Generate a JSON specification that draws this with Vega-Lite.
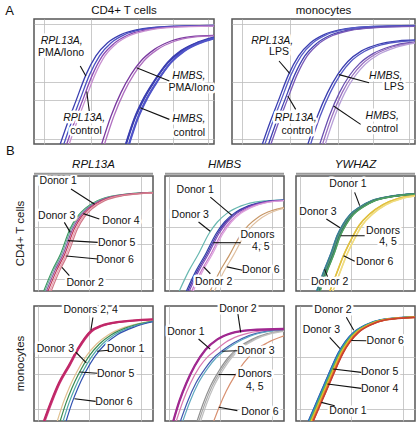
{
"$schema":"https://vega.github.io/schema/vega-lite/v6.json",
"padding":{"left":5,"top":3,"right":0,"bottom":0},
"background":"white",
"title":{"text":"A","anchor":"start","frame":"bounds","fontSize":13,"fontWeight":"normal","color":"#111","offset":-14},
"config":{
 "font":"Liberation Sans",
 "view":{"stroke":"#555","strokeWidth":1.5},
 "axis":{"labels":false,"ticks":false,"domain":false,"grid":true,"gridColor":"#bcbcbc","gridWidth":0.8},
 "title":{"fontWeight":"normal","color":"#111","font":"Liberation Sans"}
},
"datasets":{
"curves":[
{"p":"a1","s":"rp1","x":14.6,"y":0},{"p":"a1","s":"rp1","x":18.7,"y":17},{"p":"a1","s":"rp1","x":23.3,"y":34.5},{"p":"a1","s":"rp1","x":28.9,"y":55.5},{"p":"a1","s":"rp1","x":34.4,"y":70.5},{"p":"a1","s":"rp1","x":40.9,"y":81},{"p":"a1","s":"rp1","x":48.3,"y":87.5},{"p":"a1","s":"rp1","x":57.6,"y":91.5},{"p":"a1","s":"rp1","x":72.4,"y":93.8},{"p":"a1","s":"rp1","x":100,"y":94.8},
{"p":"a1","s":"rp2","x":16.6,"y":0},{"p":"a1","s":"rp2","x":20.7,"y":17},{"p":"a1","s":"rp2","x":25.3,"y":34.5},{"p":"a1","s":"rp2","x":30.9,"y":55.5},{"p":"a1","s":"rp2","x":36.4,"y":70.5},{"p":"a1","s":"rp2","x":42.9,"y":81},{"p":"a1","s":"rp2","x":50.3,"y":87.5},{"p":"a1","s":"rp2","x":59.6,"y":91.5},{"p":"a1","s":"rp2","x":74.4,"y":93.8},{"p":"a1","s":"rp2","x":100,"y":94.8},
{"p":"a1","s":"rc1","x":18.2,"y":0},{"p":"a1","s":"rc1","x":22.3,"y":17},{"p":"a1","s":"rc1","x":26.9,"y":34.5},{"p":"a1","s":"rc1","x":32.5,"y":55.5},{"p":"a1","s":"rc1","x":38,"y":70.5},{"p":"a1","s":"rc1","x":44.5,"y":80.5},{"p":"a1","s":"rc1","x":51.9,"y":87},{"p":"a1","s":"rc1","x":61.2,"y":91},{"p":"a1","s":"rc1","x":76,"y":93.5},{"p":"a1","s":"rc1","x":100,"y":94.5},
{"p":"a1","s":"rc2","x":19.6,"y":0},{"p":"a1","s":"rc2","x":23.7,"y":17},{"p":"a1","s":"rc2","x":28.3,"y":34.5},{"p":"a1","s":"rc2","x":33.9,"y":55.5},{"p":"a1","s":"rc2","x":39.4,"y":70.5},{"p":"a1","s":"rc2","x":45.9,"y":80.5},{"p":"a1","s":"rc2","x":53.3,"y":86.8},{"p":"a1","s":"rc2","x":62.6,"y":90.8},{"p":"a1","s":"rc2","x":77.4,"y":93.3},{"p":"a1","s":"rc2","x":100,"y":94.3},
{"p":"a1","s":"hp1","x":37.6,"y":0},{"p":"a1","s":"hp1","x":42.8,"y":22.4},{"p":"a1","s":"hp1","x":48.3,"y":41.1},{"p":"a1","s":"hp1","x":53.9,"y":55.7},{"p":"a1","s":"hp1","x":59.4,"y":66.4},{"p":"a1","s":"hp1","x":66.9,"y":75.7},{"p":"a1","s":"hp1","x":76.1,"y":82.4},{"p":"a1","s":"hp1","x":87.2,"y":85.9},{"p":"a1","s":"hp1","x":100,"y":86.9},
{"p":"a1","s":"hp2","x":39.2,"y":0},{"p":"a1","s":"hp2","x":44.4,"y":22.4},{"p":"a1","s":"hp2","x":49.9,"y":41.1},{"p":"a1","s":"hp2","x":55.5,"y":55.7},{"p":"a1","s":"hp2","x":61,"y":66.4},{"p":"a1","s":"hp2","x":68.5,"y":75.5},{"p":"a1","s":"hp2","x":77.7,"y":82},{"p":"a1","s":"hp2","x":88.8,"y":85.5},{"p":"a1","s":"hp2","x":100,"y":86.5},
{"p":"a1","s":"hc1","x":51.1,"y":0},{"p":"a1","s":"hc1","x":55.7,"y":19.7},{"p":"a1","s":"hc1","x":61.3,"y":37.1},{"p":"a1","s":"hc1","x":66.9,"y":50.4},{"p":"a1","s":"hc1","x":74.3,"y":65.1},{"p":"a1","s":"hc1","x":81.7,"y":74.4},{"p":"a1","s":"hc1","x":90.9,"y":81.1},{"p":"a1","s":"hc1","x":100,"y":85.1},
{"p":"a1","s":"hc2","x":52.8,"y":0},{"p":"a1","s":"hc2","x":57.4,"y":19.7},{"p":"a1","s":"hc2","x":63,"y":37.1},{"p":"a1","s":"hc2","x":68.6,"y":50.4},{"p":"a1","s":"hc2","x":76,"y":65.1},{"p":"a1","s":"hc2","x":83.4,"y":74.4},{"p":"a1","s":"hc2","x":92.6,"y":81.1},{"p":"a1","s":"hc2","x":100,"y":84.6},
{"p":"a2","s":"rl1","x":16.6,"y":0},{"p":"a2","s":"rl1","x":20.7,"y":17},{"p":"a2","s":"rl1","x":25.3,"y":34.5},{"p":"a2","s":"rl1","x":30.9,"y":55.5},{"p":"a2","s":"rl1","x":36.4,"y":70.5},{"p":"a2","s":"rl1","x":42.9,"y":81},{"p":"a2","s":"rl1","x":50.3,"y":87.5},{"p":"a2","s":"rl1","x":59.6,"y":91.5},{"p":"a2","s":"rl1","x":74.4,"y":93.8},{"p":"a2","s":"rl1","x":100,"y":94.8},
{"p":"a2","s":"rl2","x":18,"y":0},{"p":"a2","s":"rl2","x":22.1,"y":17},{"p":"a2","s":"rl2","x":26.7,"y":34.5},{"p":"a2","s":"rl2","x":32.3,"y":55.5},{"p":"a2","s":"rl2","x":37.8,"y":70.5},{"p":"a2","s":"rl2","x":44.3,"y":81},{"p":"a2","s":"rl2","x":51.7,"y":87.5},{"p":"a2","s":"rl2","x":61,"y":91.5},{"p":"a2","s":"rl2","x":75.8,"y":93.8},{"p":"a2","s":"rl2","x":100,"y":94.6},
{"p":"a2","s":"rk1","x":20,"y":0},{"p":"a2","s":"rk1","x":24.1,"y":17},{"p":"a2","s":"rk1","x":28.7,"y":34.5},{"p":"a2","s":"rk1","x":34.3,"y":55.5},{"p":"a2","s":"rk1","x":39.8,"y":70.5},{"p":"a2","s":"rk1","x":46.3,"y":80.5},{"p":"a2","s":"rk1","x":53.7,"y":87},{"p":"a2","s":"rk1","x":63,"y":91},{"p":"a2","s":"rk1","x":77.8,"y":93.3},{"p":"a2","s":"rk1","x":100,"y":94.3},
{"p":"a2","s":"rk2","x":21.3,"y":0},{"p":"a2","s":"rk2","x":25.4,"y":17},{"p":"a2","s":"rk2","x":30,"y":34.5},{"p":"a2","s":"rk2","x":35.6,"y":55.5},{"p":"a2","s":"rk2","x":41.1,"y":70.5},{"p":"a2","s":"rk2","x":47.6,"y":80.5},{"p":"a2","s":"rk2","x":55,"y":86.8},{"p":"a2","s":"rk2","x":64.3,"y":90.8},{"p":"a2","s":"rk2","x":79.1,"y":93.1},{"p":"a2","s":"rk2","x":100,"y":94.1},
{"p":"a2","s":"hl1","x":41.5,"y":0},{"p":"a2","s":"hl1","x":46.7,"y":22.4},{"p":"a2","s":"hl1","x":52.2,"y":41.1},{"p":"a2","s":"hl1","x":57.8,"y":55.7},{"p":"a2","s":"hl1","x":63.3,"y":66},{"p":"a2","s":"hl1","x":70.8,"y":74.5},{"p":"a2","s":"hl1","x":80,"y":79.8},{"p":"a2","s":"hl1","x":91,"y":82.5},{"p":"a2","s":"hl1","x":100,"y":83.2},
{"p":"a2","s":"hl2","x":43,"y":0},{"p":"a2","s":"hl2","x":48.2,"y":22.4},{"p":"a2","s":"hl2","x":53.7,"y":41.1},{"p":"a2","s":"hl2","x":59.3,"y":55.7},{"p":"a2","s":"hl2","x":64.8,"y":65.8},{"p":"a2","s":"hl2","x":72.3,"y":74},{"p":"a2","s":"hl2","x":81.5,"y":79.3},{"p":"a2","s":"hl2","x":92.5,"y":82},{"p":"a2","s":"hl2","x":100,"y":82.7},
{"p":"a2","s":"hk1","x":48,"y":0},{"p":"a2","s":"hk1","x":53.2,"y":22.4},{"p":"a2","s":"hk1","x":58.7,"y":41.1},{"p":"a2","s":"hk1","x":64.3,"y":55},{"p":"a2","s":"hk1","x":69.8,"y":64.5},{"p":"a2","s":"hk1","x":77.3,"y":72.5},{"p":"a2","s":"hk1","x":86.5,"y":78},{"p":"a2","s":"hk1","x":97.6,"y":81.2},{"p":"a2","s":"hk1","x":100,"y":81.5},
{"p":"a2","s":"hk2","x":49.5,"y":0},{"p":"a2","s":"hk2","x":54.7,"y":22.4},{"p":"a2","s":"hk2","x":60.2,"y":41.1},{"p":"a2","s":"hk2","x":65.8,"y":54.8},{"p":"a2","s":"hk2","x":71.3,"y":64.2},{"p":"a2","s":"hk2","x":78.8,"y":72.2},{"p":"a2","s":"hk2","x":88,"y":77.8},{"p":"a2","s":"hk2","x":99,"y":81},{"p":"a2","s":"hk2","x":100,"y":81.2},
{"p":"a2","s":"hk3","x":51,"y":0},{"p":"a2","s":"hk3","x":56.2,"y":22.4},{"p":"a2","s":"hk3","x":61.7,"y":41.1},{"p":"a2","s":"hk3","x":67.3,"y":54.5},{"p":"a2","s":"hk3","x":72.8,"y":63.8},{"p":"a2","s":"hk3","x":80.3,"y":71.8},{"p":"a2","s":"hk3","x":89.5,"y":77.3},{"p":"a2","s":"hk3","x":100,"y":80.8}
],
"labels":[
{"p":"a1","t":"RPL13A,","x":15.4,"y":82.4,"k":"g"},{"p":"a1","t":"PMA/Iono","x":15,"y":73,"k":"n"},
{"p":"a1","t":"RPL13A,","x":27.9,"y":21,"k":"g"},{"p":"a1","t":"control","x":28.9,"y":10.4,"k":"n"},
{"p":"a1","t":"HMBS,","x":86,"y":54.4,"k":"g"},{"p":"a1","t":"PMA/Iono","x":87.5,"y":45,"k":"n"},
{"p":"a1","t":"HMBS,","x":86,"y":19.7,"k":"g"},{"p":"a1","t":"control","x":86.3,"y":9.1,"k":"n"},
{"p":"a2","t":"RPL13A,","x":22,"y":82.4,"k":"g"},{"p":"a2","t":"LPS","x":25.7,"y":73.6,"k":"n"},
{"p":"a2","t":"RPL13A,","x":34.8,"y":21,"k":"g"},{"p":"a2","t":"control","x":35.7,"y":10.4,"k":"n"},
{"p":"a2","t":"HMBS,","x":84,"y":54.4,"k":"g"},{"p":"a2","t":"LPS","x":88.5,"y":45.6,"k":"n"},
{"p":"a2","t":"HMBS,","x":82.1,"y":22.4,"k":"g"},{"p":"a2","t":"control","x":82.1,"y":11.7,"k":"n"}
],
"arrows":[
{"p":"a1","x":25.7,"y":62.4,"x2":28.8,"y2":54.4},{"p":"a1","x":30.7,"y":26.4,"x2":29.3,"y2":42},{"p":"a1","x":75.2,"y":50.4,"x2":57,"y2":61},{"p":"a1","x":75.2,"y":19.7,"x2":59,"y2":29},
{"p":"a2","x":25.7,"y":66.4,"x2":31.5,"y2":56.5},{"p":"a2","x":34.8,"y":27.7,"x2":30.5,"y2":38.4},{"p":"a2","x":74.9,"y":49,"x2":58.5,"y2":55.5},{"p":"a2","x":70.3,"y":15.7,"x2":55.5,"y2":30.4}
],
"bdata":[
{"k":"c","r":"t","c":"R","s":"tR3","x":8.2,"y":0},{"k":"c","r":"t","c":"R","s":"tR3","x":15.2,"y":17.5},{"k":"c","r":"t","c":"R","s":"tR3","x":22.2,"y":32},{"k":"c","r":"t","c":"R","s":"tR3","x":30.2,"y":54},{"k":"c","r":"t","c":"R","s":"tR3","x":36.2,"y":64.5},{"k":"c","r":"t","c":"R","s":"tR3","x":43.2,"y":72},{"k":"c","r":"t","c":"R","s":"tR3","x":53.2,"y":78.5},{"k":"c","r":"t","c":"R","s":"tR3","x":68.2,"y":83},{"k":"c","r":"t","c":"R","s":"tR3","x":100,"y":85.8},
{"k":"c","r":"t","c":"R","s":"tR1","x":9.2,"y":0},{"k":"c","r":"t","c":"R","s":"tR1","x":16.2,"y":17.5},{"k":"c","r":"t","c":"R","s":"tR1","x":23.2,"y":32},{"k":"c","r":"t","c":"R","s":"tR1","x":31.2,"y":54},{"k":"c","r":"t","c":"R","s":"tR1","x":37.2,"y":64.5},{"k":"c","r":"t","c":"R","s":"tR1","x":44.2,"y":72},{"k":"c","r":"t","c":"R","s":"tR1","x":54.2,"y":78.5},{"k":"c","r":"t","c":"R","s":"tR1","x":69.2,"y":83},{"k":"c","r":"t","c":"R","s":"tR1","x":100,"y":85.7},
{"k":"c","r":"t","c":"R","s":"tR4","x":10.5,"y":0},{"k":"c","r":"t","c":"R","s":"tR4","x":17.5,"y":17.5},{"k":"c","r":"t","c":"R","s":"tR4","x":24.5,"y":32},{"k":"c","r":"t","c":"R","s":"tR4","x":32.5,"y":54},{"k":"c","r":"t","c":"R","s":"tR4","x":38.5,"y":64.5},{"k":"c","r":"t","c":"R","s":"tR4","x":45.5,"y":72},{"k":"c","r":"t","c":"R","s":"tR4","x":55.5,"y":78.5},{"k":"c","r":"t","c":"R","s":"tR4","x":70.5,"y":83},{"k":"c","r":"t","c":"R","s":"tR4","x":100,"y":85.6},
{"k":"c","r":"t","c":"R","s":"tR5","x":11.8,"y":0},{"k":"c","r":"t","c":"R","s":"tR5","x":18.8,"y":17.5},{"k":"c","r":"t","c":"R","s":"tR5","x":25.8,"y":32},{"k":"c","r":"t","c":"R","s":"tR5","x":33.8,"y":54},{"k":"c","r":"t","c":"R","s":"tR5","x":39.8,"y":64.5},{"k":"c","r":"t","c":"R","s":"tR5","x":46.8,"y":72},{"k":"c","r":"t","c":"R","s":"tR5","x":56.8,"y":78.5},{"k":"c","r":"t","c":"R","s":"tR5","x":71.8,"y":83},{"k":"c","r":"t","c":"R","s":"tR5","x":100,"y":85.5},
{"k":"c","r":"t","c":"R","s":"tR6","x":13.2,"y":0},{"k":"c","r":"t","c":"R","s":"tR6","x":20.2,"y":17.5},{"k":"c","r":"t","c":"R","s":"tR6","x":27.2,"y":32},{"k":"c","r":"t","c":"R","s":"tR6","x":35.2,"y":54},{"k":"c","r":"t","c":"R","s":"tR6","x":41.2,"y":64.5},{"k":"c","r":"t","c":"R","s":"tR6","x":48.2,"y":72},{"k":"c","r":"t","c":"R","s":"tR6","x":58.2,"y":78.5},{"k":"c","r":"t","c":"R","s":"tR6","x":73.2,"y":83},{"k":"c","r":"t","c":"R","s":"tR6","x":100,"y":85.4},
{"k":"c","r":"t","c":"R","s":"tR2","x":14.5,"y":0},{"k":"c","r":"t","c":"R","s":"tR2","x":21.5,"y":17.5},{"k":"c","r":"t","c":"R","s":"tR2","x":28.5,"y":32},{"k":"c","r":"t","c":"R","s":"tR2","x":36.5,"y":54},{"k":"c","r":"t","c":"R","s":"tR2","x":42.5,"y":64.5},{"k":"c","r":"t","c":"R","s":"tR2","x":49.5,"y":72},{"k":"c","r":"t","c":"R","s":"tR2","x":59.5,"y":78.5},{"k":"c","r":"t","c":"R","s":"tR2","x":74.5,"y":82.8},{"k":"c","r":"t","c":"R","s":"tR2","x":100,"y":85.3},
{"k":"c","r":"t","c":"H","s":"tH3","x":12,"y":0},{"k":"c","r":"t","c":"H","s":"tH3","x":20,"y":17.5},{"k":"c","r":"t","c":"H","s":"tH3","x":28,"y":32},{"k":"c","r":"t","c":"H","s":"tH3","x":37,"y":50},{"k":"c","r":"t","c":"H","s":"tH3","x":44,"y":60},{"k":"c","r":"t","c":"H","s":"tH3","x":52,"y":67.5},{"k":"c","r":"t","c":"H","s":"tH3","x":64,"y":74},{"k":"c","r":"t","c":"H","s":"tH3","x":80,"y":78},{"k":"c","r":"t","c":"H","s":"tH3","x":100,"y":79.3},
{"k":"c","r":"t","c":"H","s":"tH1","x":18,"y":0},{"k":"c","r":"t","c":"H","s":"tH1","x":26,"y":17.5},{"k":"c","r":"t","c":"H","s":"tH1","x":34,"y":32},{"k":"c","r":"t","c":"H","s":"tH1","x":43,"y":50},{"k":"c","r":"t","c":"H","s":"tH1","x":50,"y":60},{"k":"c","r":"t","c":"H","s":"tH1","x":58,"y":67.5},{"k":"c","r":"t","c":"H","s":"tH1","x":70,"y":74},{"k":"c","r":"t","c":"H","s":"tH1","x":86,"y":78},{"k":"c","r":"t","c":"H","s":"tH1","x":100,"y":79},
{"k":"c","r":"t","c":"H","s":"tH4","x":19.2,"y":0},{"k":"c","r":"t","c":"H","s":"tH4","x":27.2,"y":17.5},{"k":"c","r":"t","c":"H","s":"tH4","x":35.2,"y":32},{"k":"c","r":"t","c":"H","s":"tH4","x":44.2,"y":50},{"k":"c","r":"t","c":"H","s":"tH4","x":51.2,"y":60},{"k":"c","r":"t","c":"H","s":"tH4","x":59.2,"y":67.5},{"k":"c","r":"t","c":"H","s":"tH4","x":71.2,"y":74},{"k":"c","r":"t","c":"H","s":"tH4","x":87.2,"y":78},{"k":"c","r":"t","c":"H","s":"tH4","x":100,"y":78.9},
{"k":"c","r":"t","c":"H","s":"tH5","x":20.4,"y":0},{"k":"c","r":"t","c":"H","s":"tH5","x":28.4,"y":17.5},{"k":"c","r":"t","c":"H","s":"tH5","x":36.4,"y":32},{"k":"c","r":"t","c":"H","s":"tH5","x":45.4,"y":50},{"k":"c","r":"t","c":"H","s":"tH5","x":52.4,"y":60},{"k":"c","r":"t","c":"H","s":"tH5","x":60.4,"y":67.5},{"k":"c","r":"t","c":"H","s":"tH5","x":72.4,"y":74},{"k":"c","r":"t","c":"H","s":"tH5","x":88.4,"y":78},{"k":"c","r":"t","c":"H","s":"tH5","x":100,"y":78.8},
{"k":"c","r":"t","c":"H","s":"tH2","x":22.5,"y":0},{"k":"c","r":"t","c":"H","s":"tH2","x":30.5,"y":17.5},{"k":"c","r":"t","c":"H","s":"tH2","x":38.5,"y":32},{"k":"c","r":"t","c":"H","s":"tH2","x":47.5,"y":50},{"k":"c","r":"t","c":"H","s":"tH2","x":54.5,"y":60},{"k":"c","r":"t","c":"H","s":"tH2","x":62.5,"y":67.5},{"k":"c","r":"t","c":"H","s":"tH2","x":74.5,"y":74},{"k":"c","r":"t","c":"H","s":"tH2","x":90.5,"y":78},{"k":"c","r":"t","c":"H","s":"tH2","x":100,"y":78.7},
{"k":"c","r":"t","c":"H","s":"tH2b","x":23.8,"y":0},{"k":"c","r":"t","c":"H","s":"tH2b","x":31.8,"y":17.5},{"k":"c","r":"t","c":"H","s":"tH2b","x":39.8,"y":32},{"k":"c","r":"t","c":"H","s":"tH2b","x":48.8,"y":50},{"k":"c","r":"t","c":"H","s":"tH2b","x":55.8,"y":60},{"k":"c","r":"t","c":"H","s":"tH2b","x":63.8,"y":67.5},{"k":"c","r":"t","c":"H","s":"tH2b","x":75.8,"y":74},{"k":"c","r":"t","c":"H","s":"tH2b","x":91.8,"y":77.8},{"k":"c","r":"t","c":"H","s":"tH2b","x":100,"y":78.5},
{"k":"c","r":"t","c":"H","s":"tH6a","x":38,"y":0},{"k":"c","r":"t","c":"H","s":"tH6a","x":46,"y":17},{"k":"c","r":"t","c":"H","s":"tH6a","x":54,"y":31},{"k":"c","r":"t","c":"H","s":"tH6a","x":63,"y":48},{"k":"c","r":"t","c":"H","s":"tH6a","x":70,"y":57},{"k":"c","r":"t","c":"H","s":"tH6a","x":78,"y":64},{"k":"c","r":"t","c":"H","s":"tH6a","x":90,"y":70},{"k":"c","r":"t","c":"H","s":"tH6a","x":100,"y":72.5},
{"k":"c","r":"t","c":"H","s":"tH6b","x":41.5,"y":0},{"k":"c","r":"t","c":"H","s":"tH6b","x":49.5,"y":17},{"k":"c","r":"t","c":"H","s":"tH6b","x":57.5,"y":31},{"k":"c","r":"t","c":"H","s":"tH6b","x":66.5,"y":48},{"k":"c","r":"t","c":"H","s":"tH6b","x":73.5,"y":57},{"k":"c","r":"t","c":"H","s":"tH6b","x":81.5,"y":64},{"k":"c","r":"t","c":"H","s":"tH6b","x":93.5,"y":70},{"k":"c","r":"t","c":"H","s":"tH6b","x":100,"y":71.8},
{"k":"c","r":"t","c":"Y","s":"tY3","x":17.5,"y":0},{"k":"c","r":"t","c":"Y","s":"tY3","x":23.5,"y":17.5},{"k":"c","r":"t","c":"Y","s":"tY3","x":29.5,"y":33},{"k":"c","r":"t","c":"Y","s":"tY3","x":34.5,"y":48},{"k":"c","r":"t","c":"Y","s":"tY3","x":39.5,"y":58},{"k":"c","r":"t","c":"Y","s":"tY3","x":45.5,"y":66.5},{"k":"c","r":"t","c":"Y","s":"tY3","x":53.5,"y":73},{"k":"c","r":"t","c":"Y","s":"tY3","x":63.5,"y":78.5},{"k":"c","r":"t","c":"Y","s":"tY3","x":77.5,"y":82},{"k":"c","r":"t","c":"Y","s":"tY3","x":100,"y":84.5},
{"k":"c","r":"t","c":"Y","s":"tY2","x":18.3,"y":0},{"k":"c","r":"t","c":"Y","s":"tY2","x":24.3,"y":17.5},{"k":"c","r":"t","c":"Y","s":"tY2","x":30.3,"y":33},{"k":"c","r":"t","c":"Y","s":"tY2","x":35.3,"y":48},{"k":"c","r":"t","c":"Y","s":"tY2","x":40.3,"y":58},{"k":"c","r":"t","c":"Y","s":"tY2","x":46.3,"y":66.5},{"k":"c","r":"t","c":"Y","s":"tY2","x":54.3,"y":73},{"k":"c","r":"t","c":"Y","s":"tY2","x":64.3,"y":78.5},{"k":"c","r":"t","c":"Y","s":"tY2","x":78.3,"y":82},{"k":"c","r":"t","c":"Y","s":"tY2","x":100,"y":84.4},
{"k":"c","r":"t","c":"Y","s":"tY1","x":19,"y":0},{"k":"c","r":"t","c":"Y","s":"tY1","x":25,"y":17.5},{"k":"c","r":"t","c":"Y","s":"tY1","x":31,"y":33},{"k":"c","r":"t","c":"Y","s":"tY1","x":36,"y":48},{"k":"c","r":"t","c":"Y","s":"tY1","x":41,"y":58},{"k":"c","r":"t","c":"Y","s":"tY1","x":47,"y":66.5},{"k":"c","r":"t","c":"Y","s":"tY1","x":55,"y":73},{"k":"c","r":"t","c":"Y","s":"tY1","x":65,"y":78.5},{"k":"c","r":"t","c":"Y","s":"tY1","x":79,"y":82},{"k":"c","r":"t","c":"Y","s":"tY1","x":100,"y":84.3},
{"k":"c","r":"t","c":"Y","s":"tY4","x":19.6,"y":0},{"k":"c","r":"t","c":"Y","s":"tY4","x":25.6,"y":17.5},{"k":"c","r":"t","c":"Y","s":"tY4","x":31.6,"y":33},{"k":"c","r":"t","c":"Y","s":"tY4","x":36.6,"y":48},{"k":"c","r":"t","c":"Y","s":"tY4","x":41.6,"y":58},{"k":"c","r":"t","c":"Y","s":"tY4","x":47.6,"y":66.5},{"k":"c","r":"t","c":"Y","s":"tY4","x":55.6,"y":73},{"k":"c","r":"t","c":"Y","s":"tY4","x":65.6,"y":78.5},{"k":"c","r":"t","c":"Y","s":"tY4","x":79.6,"y":82},{"k":"c","r":"t","c":"Y","s":"tY4","x":100,"y":84.2},
{"k":"c","r":"t","c":"Y","s":"tY5","x":20.2,"y":0},{"k":"c","r":"t","c":"Y","s":"tY5","x":26.2,"y":17.5},{"k":"c","r":"t","c":"Y","s":"tY5","x":32.2,"y":33},{"k":"c","r":"t","c":"Y","s":"tY5","x":37.2,"y":48},{"k":"c","r":"t","c":"Y","s":"tY5","x":42.2,"y":58},{"k":"c","r":"t","c":"Y","s":"tY5","x":48.2,"y":66.5},{"k":"c","r":"t","c":"Y","s":"tY5","x":56.2,"y":73},{"k":"c","r":"t","c":"Y","s":"tY5","x":66.2,"y":78.5},{"k":"c","r":"t","c":"Y","s":"tY5","x":80.2,"y":82},{"k":"c","r":"t","c":"Y","s":"tY5","x":100,"y":84.1},
{"k":"c","r":"t","c":"Y","s":"tY6a","x":28.5,"y":0},{"k":"c","r":"t","c":"Y","s":"tY6a","x":34,"y":15},{"k":"c","r":"t","c":"Y","s":"tY6a","x":40,"y":31},{"k":"c","r":"t","c":"Y","s":"tY6a","x":46,"y":44},{"k":"c","r":"t","c":"Y","s":"tY6a","x":53,"y":57},{"k":"c","r":"t","c":"Y","s":"tY6a","x":62,"y":67},{"k":"c","r":"t","c":"Y","s":"tY6a","x":73,"y":75},{"k":"c","r":"t","c":"Y","s":"tY6a","x":86,"y":80.5},{"k":"c","r":"t","c":"Y","s":"tY6a","x":100,"y":83},
{"k":"c","r":"t","c":"Y","s":"tY6b","x":31,"y":0},{"k":"c","r":"t","c":"Y","s":"tY6b","x":36.5,"y":15},{"k":"c","r":"t","c":"Y","s":"tY6b","x":42.5,"y":31},{"k":"c","r":"t","c":"Y","s":"tY6b","x":48.5,"y":44},{"k":"c","r":"t","c":"Y","s":"tY6b","x":55.5,"y":57},{"k":"c","r":"t","c":"Y","s":"tY6b","x":64.5,"y":67},{"k":"c","r":"t","c":"Y","s":"tY6b","x":75.5,"y":75},{"k":"c","r":"t","c":"Y","s":"tY6b","x":88.5,"y":80.3},{"k":"c","r":"t","c":"Y","s":"tY6b","x":100,"y":82.6},
{"k":"c","r":"m","c":"R","s":"mR2","x":8.4,"y":0},{"k":"c","r":"m","c":"R","s":"mR2","x":14.5,"y":17},{"k":"c","r":"m","c":"R","s":"mR2","x":21,"y":33},{"k":"c","r":"m","c":"R","s":"mR2","x":29.4,"y":48.4},{"k":"c","r":"m","c":"R","s":"mR2","x":37,"y":63},{"k":"c","r":"m","c":"R","s":"mR2","x":47.6,"y":78},{"k":"c","r":"m","c":"R","s":"mR2","x":57,"y":83},{"k":"c","r":"m","c":"R","s":"mR2","x":70,"y":86},{"k":"c","r":"m","c":"R","s":"mR2","x":100,"y":88.4},
{"k":"c","r":"m","c":"R","s":"mR4","x":9.4,"y":0},{"k":"c","r":"m","c":"R","s":"mR4","x":15.5,"y":17},{"k":"c","r":"m","c":"R","s":"mR4","x":22,"y":33},{"k":"c","r":"m","c":"R","s":"mR4","x":30.4,"y":48.4},{"k":"c","r":"m","c":"R","s":"mR4","x":38,"y":63},{"k":"c","r":"m","c":"R","s":"mR4","x":48.6,"y":77.6},{"k":"c","r":"m","c":"R","s":"mR4","x":58,"y":82.7},{"k":"c","r":"m","c":"R","s":"mR4","x":71,"y":85.8},{"k":"c","r":"m","c":"R","s":"mR4","x":100,"y":88.2},
{"k":"c","r":"m","c":"R","s":"mR3","x":19.6,"y":0},{"k":"c","r":"m","c":"R","s":"mR3","x":24.6,"y":16},{"k":"c","r":"m","c":"R","s":"mR3","x":29.6,"y":29},{"k":"c","r":"m","c":"R","s":"mR3","x":35.6,"y":42},{"k":"c","r":"m","c":"R","s":"mR3","x":43.6,"y":56},{"k":"c","r":"m","c":"R","s":"mR3","x":52.6,"y":67},{"k":"c","r":"m","c":"R","s":"mR3","x":62.6,"y":75},{"k":"c","r":"m","c":"R","s":"mR3","x":77.6,"y":82},{"k":"c","r":"m","c":"R","s":"mR3","x":100,"y":87.2},
{"k":"c","r":"m","c":"R","s":"mR5","x":22,"y":0},{"k":"c","r":"m","c":"R","s":"mR5","x":27,"y":16},{"k":"c","r":"m","c":"R","s":"mR5","x":32,"y":29},{"k":"c","r":"m","c":"R","s":"mR5","x":38,"y":42},{"k":"c","r":"m","c":"R","s":"mR5","x":46,"y":56},{"k":"c","r":"m","c":"R","s":"mR5","x":55,"y":67},{"k":"c","r":"m","c":"R","s":"mR5","x":65,"y":75},{"k":"c","r":"m","c":"R","s":"mR5","x":80,"y":82},{"k":"c","r":"m","c":"R","s":"mR5","x":100,"y":86.9},
{"k":"c","r":"m","c":"R","s":"mR1","x":24.5,"y":0},{"k":"c","r":"m","c":"R","s":"mR1","x":29.5,"y":16},{"k":"c","r":"m","c":"R","s":"mR1","x":34.5,"y":29},{"k":"c","r":"m","c":"R","s":"mR1","x":40.5,"y":42},{"k":"c","r":"m","c":"R","s":"mR1","x":48.5,"y":56},{"k":"c","r":"m","c":"R","s":"mR1","x":57.5,"y":67},{"k":"c","r":"m","c":"R","s":"mR1","x":67.5,"y":75},{"k":"c","r":"m","c":"R","s":"mR1","x":82.5,"y":82},{"k":"c","r":"m","c":"R","s":"mR1","x":100,"y":86.6},
{"k":"c","r":"m","c":"R","s":"mR6","x":27,"y":0},{"k":"c","r":"m","c":"R","s":"mR6","x":32,"y":16},{"k":"c","r":"m","c":"R","s":"mR6","x":37,"y":29},{"k":"c","r":"m","c":"R","s":"mR6","x":43,"y":42},{"k":"c","r":"m","c":"R","s":"mR6","x":51,"y":56},{"k":"c","r":"m","c":"R","s":"mR6","x":60,"y":67},{"k":"c","r":"m","c":"R","s":"mR6","x":70,"y":75},{"k":"c","r":"m","c":"R","s":"mR6","x":85,"y":82},{"k":"c","r":"m","c":"R","s":"mR6","x":100,"y":86.3},
{"k":"c","r":"m","c":"H","s":"mH2","x":7,"y":0},{"k":"c","r":"m","c":"H","s":"mH2","x":12,"y":17},{"k":"c","r":"m","c":"H","s":"mH2","x":18,"y":33},{"k":"c","r":"m","c":"H","s":"mH2","x":25,"y":48},{"k":"c","r":"m","c":"H","s":"mH2","x":34,"y":62},{"k":"c","r":"m","c":"H","s":"mH2","x":44,"y":71},{"k":"c","r":"m","c":"H","s":"mH2","x":56,"y":76.5},{"k":"c","r":"m","c":"H","s":"mH2","x":72,"y":79},{"k":"c","r":"m","c":"H","s":"mH2","x":100,"y":80},
{"k":"c","r":"m","c":"H","s":"mH1","x":9.5,"y":0},{"k":"c","r":"m","c":"H","s":"mH1","x":15,"y":17},{"k":"c","r":"m","c":"H","s":"mH1","x":21.5,"y":33},{"k":"c","r":"m","c":"H","s":"mH1","x":29,"y":47},{"k":"c","r":"m","c":"H","s":"mH1","x":36,"y":56},{"k":"c","r":"m","c":"H","s":"mH1","x":42.5,"y":61.5},{"k":"c","r":"m","c":"H","s":"mH1","x":51,"y":68.5},{"k":"c","r":"m","c":"H","s":"mH1","x":62,"y":74},{"k":"c","r":"m","c":"H","s":"mH1","x":78,"y":78},{"k":"c","r":"m","c":"H","s":"mH1","x":100,"y":79.6},
{"k":"c","r":"m","c":"H","s":"mH3a","x":13,"y":0},{"k":"c","r":"m","c":"H","s":"mH3a","x":19,"y":17},{"k":"c","r":"m","c":"H","s":"mH3a","x":26,"y":33},{"k":"c","r":"m","c":"H","s":"mH3a","x":34,"y":46},{"k":"c","r":"m","c":"H","s":"mH3a","x":41,"y":55},{"k":"c","r":"m","c":"H","s":"mH3a","x":48,"y":61},{"k":"c","r":"m","c":"H","s":"mH3a","x":58,"y":68},{"k":"c","r":"m","c":"H","s":"mH3a","x":70,"y":74},{"k":"c","r":"m","c":"H","s":"mH3a","x":85,"y":78},{"k":"c","r":"m","c":"H","s":"mH3a","x":100,"y":79.5},
{"k":"c","r":"m","c":"H","s":"mH3b","x":15,"y":0},{"k":"c","r":"m","c":"H","s":"mH3b","x":21,"y":17},{"k":"c","r":"m","c":"H","s":"mH3b","x":28,"y":33},{"k":"c","r":"m","c":"H","s":"mH3b","x":36,"y":46},{"k":"c","r":"m","c":"H","s":"mH3b","x":43,"y":55},{"k":"c","r":"m","c":"H","s":"mH3b","x":50,"y":61},{"k":"c","r":"m","c":"H","s":"mH3b","x":60,"y":68},{"k":"c","r":"m","c":"H","s":"mH3b","x":72,"y":74},{"k":"c","r":"m","c":"H","s":"mH3b","x":87,"y":77.8},{"k":"c","r":"m","c":"H","s":"mH3b","x":100,"y":79.3},
{"k":"c","r":"m","c":"H","s":"mH4","x":27,"y":0},{"k":"c","r":"m","c":"H","s":"mH4","x":32,"y":15},{"k":"c","r":"m","c":"H","s":"mH4","x":38,"y":30},{"k":"c","r":"m","c":"H","s":"mH4","x":45,"y":43},{"k":"c","r":"m","c":"H","s":"mH4","x":53,"y":55},{"k":"c","r":"m","c":"H","s":"mH4","x":62,"y":64},{"k":"c","r":"m","c":"H","s":"mH4","x":73,"y":71},{"k":"c","r":"m","c":"H","s":"mH4","x":86,"y":76},{"k":"c","r":"m","c":"H","s":"mH4","x":100,"y":78.5},
{"k":"c","r":"m","c":"H","s":"mH5","x":28.5,"y":0},{"k":"c","r":"m","c":"H","s":"mH5","x":33.5,"y":15},{"k":"c","r":"m","c":"H","s":"mH5","x":39.5,"y":30},{"k":"c","r":"m","c":"H","s":"mH5","x":46.5,"y":43},{"k":"c","r":"m","c":"H","s":"mH5","x":54.5,"y":55},{"k":"c","r":"m","c":"H","s":"mH5","x":63.5,"y":64},{"k":"c","r":"m","c":"H","s":"mH5","x":74.5,"y":71},{"k":"c","r":"m","c":"H","s":"mH5","x":87.5,"y":76},{"k":"c","r":"m","c":"H","s":"mH5","x":100,"y":78.3},
{"k":"c","r":"m","c":"H","s":"mH5b","x":30,"y":0},{"k":"c","r":"m","c":"H","s":"mH5b","x":35,"y":15},{"k":"c","r":"m","c":"H","s":"mH5b","x":41,"y":30},{"k":"c","r":"m","c":"H","s":"mH5b","x":48,"y":43},{"k":"c","r":"m","c":"H","s":"mH5b","x":56,"y":55},{"k":"c","r":"m","c":"H","s":"mH5b","x":65,"y":64},{"k":"c","r":"m","c":"H","s":"mH5b","x":76,"y":71},{"k":"c","r":"m","c":"H","s":"mH5b","x":89,"y":76},{"k":"c","r":"m","c":"H","s":"mH5b","x":100,"y":78},
{"k":"c","r":"m","c":"H","s":"mH6","x":41,"y":0},{"k":"c","r":"m","c":"H","s":"mH6","x":45.5,"y":12},{"k":"c","r":"m","c":"H","s":"mH6","x":51.5,"y":26},{"k":"c","r":"m","c":"H","s":"mH6","x":58.5,"y":39},{"k":"c","r":"m","c":"H","s":"mH6","x":66.5,"y":51},{"k":"c","r":"m","c":"H","s":"mH6","x":75.5,"y":61},{"k":"c","r":"m","c":"H","s":"mH6","x":86,"y":68},{"k":"c","r":"m","c":"H","s":"mH6","x":100,"y":74},
{"k":"c","r":"m","c":"Y","s":"mY3","x":10.5,"y":0},{"k":"c","r":"m","c":"Y","s":"mY3","x":15.5,"y":12},{"k":"c","r":"m","c":"Y","s":"mY3","x":20.5,"y":24},{"k":"c","r":"m","c":"Y","s":"mY3","x":25.5,"y":36},{"k":"c","r":"m","c":"Y","s":"mY3","x":30.5,"y":48},{"k":"c","r":"m","c":"Y","s":"mY3","x":35.5,"y":59},{"k":"c","r":"m","c":"Y","s":"mY3","x":41.5,"y":69},{"k":"c","r":"m","c":"Y","s":"mY3","x":48.5,"y":77},{"k":"c","r":"m","c":"Y","s":"mY3","x":58.5,"y":83.5},{"k":"c","r":"m","c":"Y","s":"mY3","x":71.5,"y":88},{"k":"c","r":"m","c":"Y","s":"mY3","x":100,"y":90.6},
{"k":"c","r":"m","c":"Y","s":"mY2","x":11.3,"y":0},{"k":"c","r":"m","c":"Y","s":"mY2","x":16.3,"y":12},{"k":"c","r":"m","c":"Y","s":"mY2","x":21.3,"y":24},{"k":"c","r":"m","c":"Y","s":"mY2","x":26.3,"y":36},{"k":"c","r":"m","c":"Y","s":"mY2","x":31.3,"y":48},{"k":"c","r":"m","c":"Y","s":"mY2","x":36.3,"y":59},{"k":"c","r":"m","c":"Y","s":"mY2","x":42.3,"y":69},{"k":"c","r":"m","c":"Y","s":"mY2","x":49.3,"y":77},{"k":"c","r":"m","c":"Y","s":"mY2","x":59.3,"y":83.5},{"k":"c","r":"m","c":"Y","s":"mY2","x":72.3,"y":88},{"k":"c","r":"m","c":"Y","s":"mY2","x":100,"y":90.5},
{"k":"c","r":"m","c":"Y","s":"mY5","x":12.1,"y":0},{"k":"c","r":"m","c":"Y","s":"mY5","x":17.1,"y":12},{"k":"c","r":"m","c":"Y","s":"mY5","x":22.1,"y":24},{"k":"c","r":"m","c":"Y","s":"mY5","x":27.1,"y":36},{"k":"c","r":"m","c":"Y","s":"mY5","x":32.1,"y":48},{"k":"c","r":"m","c":"Y","s":"mY5","x":37.1,"y":59},{"k":"c","r":"m","c":"Y","s":"mY5","x":43.1,"y":69},{"k":"c","r":"m","c":"Y","s":"mY5","x":50.1,"y":77},{"k":"c","r":"m","c":"Y","s":"mY5","x":60.1,"y":83.5},{"k":"c","r":"m","c":"Y","s":"mY5","x":73.1,"y":88},{"k":"c","r":"m","c":"Y","s":"mY5","x":100,"y":90.4},
{"k":"c","r":"m","c":"Y","s":"mY4","x":12.9,"y":0},{"k":"c","r":"m","c":"Y","s":"mY4","x":17.9,"y":12},{"k":"c","r":"m","c":"Y","s":"mY4","x":22.9,"y":24},{"k":"c","r":"m","c":"Y","s":"mY4","x":27.9,"y":36},{"k":"c","r":"m","c":"Y","s":"mY4","x":32.9,"y":48},{"k":"c","r":"m","c":"Y","s":"mY4","x":37.9,"y":59},{"k":"c","r":"m","c":"Y","s":"mY4","x":43.9,"y":69},{"k":"c","r":"m","c":"Y","s":"mY4","x":50.9,"y":77},{"k":"c","r":"m","c":"Y","s":"mY4","x":60.9,"y":83.5},{"k":"c","r":"m","c":"Y","s":"mY4","x":73.9,"y":88},{"k":"c","r":"m","c":"Y","s":"mY4","x":100,"y":90.3},
{"k":"c","r":"m","c":"Y","s":"mY6","x":13.7,"y":0},{"k":"c","r":"m","c":"Y","s":"mY6","x":18.7,"y":12},{"k":"c","r":"m","c":"Y","s":"mY6","x":23.7,"y":24},{"k":"c","r":"m","c":"Y","s":"mY6","x":28.7,"y":36},{"k":"c","r":"m","c":"Y","s":"mY6","x":33.7,"y":48},{"k":"c","r":"m","c":"Y","s":"mY6","x":38.7,"y":59},{"k":"c","r":"m","c":"Y","s":"mY6","x":44.7,"y":69},{"k":"c","r":"m","c":"Y","s":"mY6","x":51.7,"y":77},{"k":"c","r":"m","c":"Y","s":"mY6","x":61.7,"y":83.5},{"k":"c","r":"m","c":"Y","s":"mY6","x":74.7,"y":88},{"k":"c","r":"m","c":"Y","s":"mY6","x":100,"y":90.2},
{"k":"c","r":"m","c":"Y","s":"mY1","x":14.5,"y":0},{"k":"c","r":"m","c":"Y","s":"mY1","x":19.5,"y":12},{"k":"c","r":"m","c":"Y","s":"mY1","x":24.5,"y":24},{"k":"c","r":"m","c":"Y","s":"mY1","x":29.5,"y":36},{"k":"c","r":"m","c":"Y","s":"mY1","x":34.5,"y":48},{"k":"c","r":"m","c":"Y","s":"mY1","x":39.5,"y":59},{"k":"c","r":"m","c":"Y","s":"mY1","x":45.5,"y":69},{"k":"c","r":"m","c":"Y","s":"mY1","x":52.5,"y":77},{"k":"c","r":"m","c":"Y","s":"mY1","x":62.5,"y":83.5},{"k":"c","r":"m","c":"Y","s":"mY1","x":75.5,"y":88},{"k":"c","r":"m","c":"Y","s":"mY1","x":100,"y":90.1},
{"k":"l","r":"t","c":"R","t":"Donor 1","x":20.4,"y":95.4},{"k":"l","r":"t","c":"R","t":"Donor 4","x":73.1,"y":61.1},{"k":"l","r":"t","c":"R","t":"Donor 3","x":19.1,"y":64.9},{"k":"l","r":"t","c":"R","t":"Donor 5","x":69.5,"y":41.5},{"k":"l","r":"t","c":"R","t":"Donor 6","x":68.1,"y":27},{"k":"l","r":"t","c":"R","t":"Donor 2","x":42.9,"y":7},
{"k":"l","r":"t","c":"H","t":"Donor 1","x":25.4,"y":87.5},{"k":"l","r":"t","c":"H","t":"Donor 3","x":21.2,"y":65.8},{"k":"l","r":"t","c":"H","t":"Donors","x":77.7,"y":48.4},{"k":"l","r":"t","c":"H","t":"4, 5","x":80.5,"y":38.3},{"k":"l","r":"t","c":"H","t":"Donor 2","x":40.9,"y":7.8},{"k":"l","r":"t","c":"H","t":"Donor 6","x":80.5,"y":18},
{"k":"l","r":"t","c":"Y","t":"Donor 1","x":43.7,"y":93},{"k":"l","r":"t","c":"Y","t":"Donor 3","x":18.5,"y":68.4},{"k":"l","r":"t","c":"Y","t":"Donors","x":73.1,"y":52.4},{"k":"l","r":"t","c":"Y","t":"4, 5","x":77.3,"y":42.3},{"k":"l","r":"t","c":"Y","t":"Donor 6","x":66.1,"y":25},{"k":"l","r":"t","c":"Y","t":"Donor 2","x":28.3,"y":7.5},
{"k":"l","r":"m","c":"R","t":"Donors 2, 4","x":47.6,"y":96.2},{"k":"l","r":"m","c":"R","t":"Donor 3","x":18,"y":62.5},{"k":"l","r":"m","c":"R","t":"Donor 1","x":77,"y":62.9},{"k":"l","r":"m","c":"R","t":"Donor 5","x":68.6,"y":41.2},{"k":"l","r":"m","c":"R","t":"Donor 6","x":67.2,"y":16.5},
{"k":"l","r":"m","c":"H","t":"Donor 2","x":61.3,"y":97.5},{"k":"l","r":"m","c":"H","t":"Donor 1","x":17.5,"y":77.1},{"k":"l","r":"m","c":"H","t":"Donor 3","x":76.3,"y":61.1},{"k":"l","r":"m","c":"H","t":"Donors","x":75.4,"y":40.9},{"k":"l","r":"m","c":"H","t":"4, 5","x":75.4,"y":29.3},{"k":"l","r":"m","c":"H","t":"Donor 6","x":79.7,"y":7.5},
{"k":"l","r":"m","c":"Y","t":"Donor 2","x":31.1,"y":96.8},{"k":"l","r":"m","c":"Y","t":"Donor 3","x":21.3,"y":79.4},{"k":"l","r":"m","c":"Y","t":"Donor 6","x":75,"y":69.8},{"k":"l","r":"m","c":"Y","t":"Donor 5","x":70.3,"y":42.3},{"k":"l","r":"m","c":"Y","t":"Donor 4","x":70.3,"y":27.5},{"k":"l","r":"m","c":"Y","t":"Donor 1","x":43.7,"y":8.4},
{"k":"a","r":"t","c":"R","x":31.1,"y":88.7,"x2":51,"y2":75.5},{"k":"a","r":"t","c":"R","x":54.9,"y":62.6,"x2":41.5,"y2":67.3},{"k":"a","r":"t","c":"R","x":25.5,"y":59.7,"x2":30.5,"y2":51},{"k":"a","r":"t","c":"R","x":53.5,"y":42.3,"x2":28.3,"y2":43.8},{"k":"a","r":"t","c":"R","x":53.5,"y":27.8,"x2":27,"y2":30.5},{"k":"a","r":"t","c":"R","x":29.7,"y":13.3,"x2":23.5,"y2":20.6},
{"k":"a","r":"t","c":"H","x":38.1,"y":81.7,"x2":56,"y2":66},{"k":"a","r":"t","c":"H","x":28.2,"y":60,"x2":38,"y2":52},{"k":"a","r":"t","c":"H","x":63.6,"y":42,"x2":40.5,"y2":42},{"k":"a","r":"t","c":"H","x":38.1,"y":15,"x2":32.5,"y2":21},{"k":"a","r":"t","c":"H","x":65,"y":18,"x2":52,"y2":21},
{"k":"a","r":"t","c":"Y","x":49.3,"y":85.8,"x2":53.5,"y2":74.2},{"k":"a","r":"t","c":"Y","x":25.5,"y":62.6,"x2":37,"y2":55},{"k":"a","r":"t","c":"Y","x":57.7,"y":48.1,"x2":37.5,"y2":48},{"k":"a","r":"t","c":"Y","x":49.3,"y":25.8,"x2":40,"y2":30.7},{"k":"a","r":"t","c":"Y","x":26.5,"y":12.5,"x2":24,"y2":19},
{"k":"a","r":"m","c":"R","x":49.5,"y":90,"x2":47.8,"y2":79},{"k":"a","r":"m","c":"R","x":35,"y":60,"x2":44,"y2":50.5},{"k":"a","r":"m","c":"R","x":63,"y":61.5,"x2":53,"y2":60.6},{"k":"a","r":"m","c":"R","x":53.2,"y":41.5,"x2":38.3,"y2":42.6},{"k":"a","r":"m","c":"R","x":51.8,"y":17.1,"x2":34,"y2":19.4},
{"k":"a","r":"m","c":"H","x":61.3,"y":93,"x2":63.6,"y2":77},{"k":"a","r":"m","c":"H","x":28.2,"y":71.3,"x2":38,"y2":62.5},{"k":"a","r":"m","c":"H","x":60.8,"y":61.1,"x2":48,"y2":60.6},{"k":"a","r":"m","c":"H","x":59.3,"y":40.3,"x2":45,"y2":40.5},{"k":"a","r":"m","c":"H","x":60.8,"y":9,"x2":45.2,"y2":11.9},
{"k":"a","r":"m","c":"Y","x":42.3,"y":90.2,"x2":48.5,"y2":79},{"k":"a","r":"m","c":"Y","x":28.3,"y":72.8,"x2":37,"y2":63},{"k":"a","r":"m","c":"Y","x":59.1,"y":69.8,"x2":46.5,"y2":70},{"k":"a","r":"m","c":"Y","x":54.9,"y":42.3,"x2":31,"y2":45.2},{"k":"a","r":"m","c":"Y","x":54.9,"y":28.4,"x2":26.5,"y2":32.2},{"k":"a","r":"m","c":"Y","x":32.5,"y":13.3,"x2":21.3,"y2":16.2},
{"k":"u","r":"t","c":"R"},{"k":"u","r":"t","c":"H"},{"k":"u","r":"t","c":"Y"},
{"k":"B","r":"t","c":"R"}
]
},
"spacing":-2,
"resolve":{"scale":{"x":"independent","y":"independent","color":"independent"}},
"vconcat":[
{"hconcat":[
 {"width":180,"height":125,
  "title":{"text":"CD4+ T cells","fontSize":11.5,"offset":3},
  "layer":[
   {"data":{"name":"curves"},"transform":[{"filter":"datum.p=='a1'"}],"mark":{"type":"line","interpolate":"monotone","clip":true,"strokeWidth":1.3},
    "encoding":{
     "x":{"field":"x","type":"quantitative","title":null,"scale":{"domain":[0,100],"nice":false,"zero":false},"axis":{"values":[5.7,12.2,18.7,25.2,31.7,38.2,44.7,51.2,57.7,64.2,70.7,72.4,77.2,83.7,90.2,92,96.7]}},
     "y":{"field":"y","type":"quantitative","title":null,"scale":{"domain":[0,100],"nice":false,"zero":false},"axis":{"values":[3.9,15.5,23.7,30.1,35.4,39.8,43.6,47,50,69.9,81.5,89.7,96.1]}},
     "detail":{"field":"s","type":"nominal"},"color":{"field":"s","type":"nominal","legend":null,"scale":{"domain":["rp1","rp2","rc1","rc2","hp1","hp2","hc1","hc2"],"range":["#3a3eb0","#4b50c2","#8a4ab4","#c890d0","#7a3aa0","#b070c0","#3a3eb0","#5054c8"]}}}},
   {"data":{"name":"curves"},"transform":[{"filter":"datum.p=='a1' && (datum.s=='hc1' || datum.s=='hc2')"}],"mark":{"type":"line","interpolate":"monotone","clip":true,"strokeWidth":2.2},
    "encoding":{
     "x":{"field":"x","type":"quantitative","title":null,"scale":{"domain":[0,100],"nice":false,"zero":false}},
     "y":{"field":"y","type":"quantitative","title":null,"scale":{"domain":[0,100],"nice":false,"zero":false}},
     "detail":{"field":"s","type":"nominal"},"color":{"field":"s","type":"nominal","legend":null,"scale":{"domain":["rp1","rp2","rc1","rc2","hp1","hp2","hc1","hc2"],"range":["#3a3eb0","#4b50c2","#8a4ab4","#c890d0","#7a3aa0","#b070c0","#3a3eb0","#5054c8"]}}}},
   {"data":{"name":"labels"},"transform":[{"filter":"datum.p=='a1' && datum.k=='g'"}],"mark":{"type":"text","fontSize":10.5,"fontStyle":"italic","fill":"white","stroke":"white","strokeWidth":5,"strokeJoin":"round"},
    "encoding":{"x":{"field":"x","type":"quantitative","title":null,"scale":{"domain":[0,100],"nice":false,"zero":false}},"y":{"field":"y","type":"quantitative","title":null,"scale":{"domain":[0,100],"nice":false,"zero":false}},"text":{"field":"t"}}},
   {"data":{"name":"labels"},"transform":[{"filter":"datum.p=='a1' && datum.k=='n'"}],"mark":{"type":"text","fontSize":10.5,"fill":"white","stroke":"white","strokeWidth":5,"strokeJoin":"round"},
    "encoding":{"x":{"field":"x","type":"quantitative","title":null,"scale":{"domain":[0,100],"nice":false,"zero":false}},"y":{"field":"y","type":"quantitative","title":null,"scale":{"domain":[0,100],"nice":false,"zero":false}},"text":{"field":"t"}}},
   {"data":{"name":"arrows"},"transform":[{"filter":"datum.p=='a1'"}],"mark":{"type":"rule","color":"#111","strokeWidth":1.1},
    "encoding":{"x":{"field":"x","type":"quantitative","title":null,"scale":{"domain":[0,100],"nice":false,"zero":false}},"y":{"field":"y","type":"quantitative","title":null,"scale":{"domain":[0,100],"nice":false,"zero":false}},"x2":{"field":"x2"},"y2":{"field":"y2"}}},
   {"data":{"name":"labels"},"transform":[{"filter":"datum.p=='a1' && datum.k=='g'"}],"mark":{"type":"text","fontSize":10.5,"fontStyle":"italic","color":"#111"},
    "encoding":{"x":{"field":"x","type":"quantitative","title":null,"scale":{"domain":[0,100],"nice":false,"zero":false}},"y":{"field":"y","type":"quantitative","title":null,"scale":{"domain":[0,100],"nice":false,"zero":false}},"text":{"field":"t"}}},
   {"data":{"name":"labels"},"transform":[{"filter":"datum.p=='a1' && datum.k=='n'"}],"mark":{"type":"text","fontSize":10.5,"color":"#111"},
    "encoding":{"x":{"field":"x","type":"quantitative","title":null,"scale":{"domain":[0,100],"nice":false,"zero":false}},"y":{"field":"y","type":"quantitative","title":null,"scale":{"domain":[0,100],"nice":false,"zero":false}},"text":{"field":"t"}}}
  ]},
 {"width":183,"height":125,
  "title":{"text":"monocytes","fontSize":11.5,"offset":3},
  "layer":[
   {"data":{"name":"curves"},"transform":[{"filter":"datum.p=='a2'"}],"mark":{"type":"line","interpolate":"monotone","clip":true,"strokeWidth":1.3},
    "encoding":{
     "x":{"field":"x","type":"quantitative","title":null,"scale":{"domain":[0,100],"nice":false,"zero":false},"axis":{"values":[5.7,12.2,18.7,25.2,31.7,38.2,44.7,51.2,57.7,64.2,70.7,72.4,77.2,83.7,90.2,92,96.7]}},
     "y":{"field":"y","type":"quantitative","title":null,"scale":{"domain":[0,100],"nice":false,"zero":false},"axis":{"values":[3.9,15.5,23.7,30.1,35.4,39.8,43.6,47,50,69.9,81.5,89.7,96.1]}},
     "detail":{"field":"s","type":"nominal"},"color":{"field":"s","type":"nominal","legend":null,"scale":{"domain":["rl1","rl2","rk1","rk2","hl1","hl2","hk1","hk2","hk3"],"range":["#3a3eb0","#5a5ec8","#4040b0","#7a5ab8","#3a3eb0","#5558c4","#6a50b0","#9a70c0","#b8a0d8"]}}}},
   {"data":{"name":"labels"},"transform":[{"filter":"datum.p=='a2' && datum.k=='g'"}],"mark":{"type":"text","fontSize":10.5,"fontStyle":"italic","fill":"white","stroke":"white","strokeWidth":5,"strokeJoin":"round"},
    "encoding":{"x":{"field":"x","type":"quantitative","title":null,"scale":{"domain":[0,100],"nice":false,"zero":false}},"y":{"field":"y","type":"quantitative","title":null,"scale":{"domain":[0,100],"nice":false,"zero":false}},"text":{"field":"t"}}},
   {"data":{"name":"labels"},"transform":[{"filter":"datum.p=='a2' && datum.k=='n'"}],"mark":{"type":"text","fontSize":10.5,"fill":"white","stroke":"white","strokeWidth":5,"strokeJoin":"round"},
    "encoding":{"x":{"field":"x","type":"quantitative","title":null,"scale":{"domain":[0,100],"nice":false,"zero":false}},"y":{"field":"y","type":"quantitative","title":null,"scale":{"domain":[0,100],"nice":false,"zero":false}},"text":{"field":"t"}}},
   {"data":{"name":"arrows"},"transform":[{"filter":"datum.p=='a2'"}],"mark":{"type":"rule","color":"#111","strokeWidth":1.1},
    "encoding":{"x":{"field":"x","type":"quantitative","title":null,"scale":{"domain":[0,100],"nice":false,"zero":false}},"y":{"field":"y","type":"quantitative","title":null,"scale":{"domain":[0,100],"nice":false,"zero":false}},"x2":{"field":"x2"},"y2":{"field":"y2"}}},
   {"data":{"name":"labels"},"transform":[{"filter":"datum.p=='a2' && datum.k=='g'"}],"mark":{"type":"text","fontSize":10.5,"fontStyle":"italic","color":"#111"},
    "encoding":{"x":{"field":"x","type":"quantitative","title":null,"scale":{"domain":[0,100],"nice":false,"zero":false}},"y":{"field":"y","type":"quantitative","title":null,"scale":{"domain":[0,100],"nice":false,"zero":false}},"text":{"field":"t"}}},
   {"data":{"name":"labels"},"transform":[{"filter":"datum.p=='a2' && datum.k=='n'"}],"mark":{"type":"text","fontSize":10.5,"color":"#111"},
    "encoding":{"x":{"field":"x","type":"quantitative","title":null,"scale":{"domain":[0,100],"nice":false,"zero":false}},"y":{"field":"y","type":"quantitative","title":null,"scale":{"domain":[0,100],"nice":false,"zero":false}},"text":{"field":"t"}}}
  ]}
 ],"spacing":18,"bounds":"flush","resolve":{"scale":{"x":"independent","y":"independent","color":"independent"}}},
{"data":{"name":"bdata"},
 "facet":{
  "row":{"field":"r","type":"nominal","sort":["t","m"],"header":{"title":null,"labelExpr":"datum.value=='t' ? 'CD4+ T cells' : 'monocytes'","labelFont":"Liberation Sans","labelFontSize":11.5,"labelColor":"#222","labelAngle":-90,"labelOrient":"left","labelPadding":2}},
  "column":{"field":"c","type":"nominal","sort":["R","H","Y"],"header":{"title":null,"labelExpr":"datum.value=='R' ? 'RPL13A' : (datum.value=='H' ? 'HMBS' : 'YWHAZ')","labelFont":"Liberation Sans","labelFontStyle":"italic","labelFontSize":11.5,"labelColor":"#111","labelPadding":6}}
 },
 "spacing":{"row":15,"column":12},
 "bounds":"flush",
 "spec":{
  "width":119,"height":115,
  "layer":[
   {"transform":[{"filter":"datum.k=='c'"}],"mark":{"type":"line","interpolate":"monotone","clip":true,"strokeWidth":1.2},
    "encoding":{
     "x":{"field":"x","type":"quantitative","title":null,"scale":{"domain":[0,100],"nice":false,"zero":false},"axis":{"values":[3,9.2,15.4,21.6,27.8,34,36,40.2,46.4,52.6,58.8,65,67,71.2,77.4,83.6,89.8,96,98]}},
     "y":{"field":"y","type":"quantitative","title":null,"scale":{"domain":[0,100],"nice":false,"zero":false},"axis":{"values":[10.3,21.7,29.8,36.1,41.3,45.6,49.4,52.7,55.7,75.3,86.7,94.8]}},
     "detail":{"field":"s","type":"nominal"},
     "color":{"field":"s","type":"nominal","legend":null,"scale":{
      "domain":["tR3","tR1","tR4","tR5","tR6","tR2","tH3","tH1","tH4","tH5","tH2","tH2b","tH6a","tH6b","tY3","tY2","tY1","tY4","tY5","tY6a","tY6b","mR2","mR4","mR3","mR5","mR1","mR6","mH2","mH1","mH3a","mH3b","mH4","mH5","mH5b","mH6","mY3","mY2","mY5","mY4","mY6","mY1"],
      "range":["#3a9a60","#70a8a0","#9050a0","#c03858","#e8a0b0","#d07888","#68b8b0","#3040a8","#4a3ca8","#7a4ab8","#c878c8","#dca0dc","#c89868","#e0c0a0","#3a78a0","#3c8c78","#6a9a88","#2a6a6a","#50a060","#e0c040","#f0dc80","#c02868","#d04080","#e0c090","#3a8a50","#50a8a8","#3050b0","#a02890","#d878b0","#4058b0","#60a8c0","#909090","#a8a8a8","#c0c0c0","#d89070","#3060b8","#30a0b0","#70b040","#e8c830","#e88030","#c84030"]}}}},
   {"transform":[{"filter":"datum.k=='c' && datum.c=='Y'"}],"mark":{"type":"line","interpolate":"monotone","clip":true,"strokeWidth":1.6},
    "encoding":{"x":{"field":"x","type":"quantitative","title":null,"scale":{"domain":[0,100],"nice":false,"zero":false}},"y":{"field":"y","type":"quantitative","title":null,"scale":{"domain":[0,100],"nice":false,"zero":false}},"detail":{"field":"s","type":"nominal"},"color":{"field":"s","type":"nominal","legend":null}}},
   {"transform":[{"filter":"datum.k=='c' && (datum.s=='mR2' || datum.s=='mH2')"}],"mark":{"type":"line","interpolate":"monotone","clip":true,"strokeWidth":2.3},
    "encoding":{"x":{"field":"x","type":"quantitative","title":null,"scale":{"domain":[0,100],"nice":false,"zero":false}},"y":{"field":"y","type":"quantitative","title":null,"scale":{"domain":[0,100],"nice":false,"zero":false}},"detail":{"field":"s","type":"nominal"},"color":{"field":"s","type":"nominal","legend":null}}},
   {"transform":[{"filter":"datum.k=='l'"}],"mark":{"type":"text","fontSize":10.5,"fill":"white","stroke":"white","strokeWidth":5,"strokeJoin":"round"},
    "encoding":{"x":{"field":"x","type":"quantitative","title":null,"scale":{"domain":[0,100],"nice":false,"zero":false}},"y":{"field":"y","type":"quantitative","title":null,"scale":{"domain":[0,100],"nice":false,"zero":false}},"text":{"field":"t"}}},
   {"transform":[{"filter":"datum.k=='a'"}],"mark":{"type":"rule","color":"#111","strokeWidth":1.1},
    "encoding":{"x":{"field":"x","type":"quantitative","title":null,"scale":{"domain":[0,100],"nice":false,"zero":false}},"y":{"field":"y","type":"quantitative","title":null,"scale":{"domain":[0,100],"nice":false,"zero":false}},"x2":{"field":"x2"},"y2":{"field":"y2"}}},
   {"transform":[{"filter":"datum.k=='l'"}],"mark":{"type":"text","fontSize":10.5,"color":"#111"},
    "encoding":{"x":{"field":"x","type":"quantitative","title":null,"scale":{"domain":[0,100],"nice":false,"zero":false}},"y":{"field":"y","type":"quantitative","title":null,"scale":{"domain":[0,100],"nice":false,"zero":false}},"text":{"field":"t"}}},
   {"transform":[{"filter":"datum.k=='u'"}],"mark":{"type":"rule","color":"#999","strokeWidth":2,"clip":false},
    "encoding":{"x":{"datum":0,"type":"quantitative","scale":{"domain":[0,100],"nice":false,"zero":false}},"x2":{"datum":100},"y":{"datum":102,"type":"quantitative","scale":{"domain":[0,100],"nice":false,"zero":false}}}},
   {"transform":[{"filter":"datum.k=='B'"}],"mark":{"type":"text","text":"B","fontSize":13,"align":"left","baseline":"alphabetic","color":"#111"},
    "encoding":{"x":{"datum":-23.5,"type":"quantitative","scale":{"domain":[0,100],"nice":false,"zero":false}},"y":{"datum":118.5,"type":"quantitative","scale":{"domain":[0,100],"nice":false,"zero":false}}}}
  ]
 },
 "resolve":{"scale":{"x":"shared","y":"shared","color":"shared"}}
}
]
}
